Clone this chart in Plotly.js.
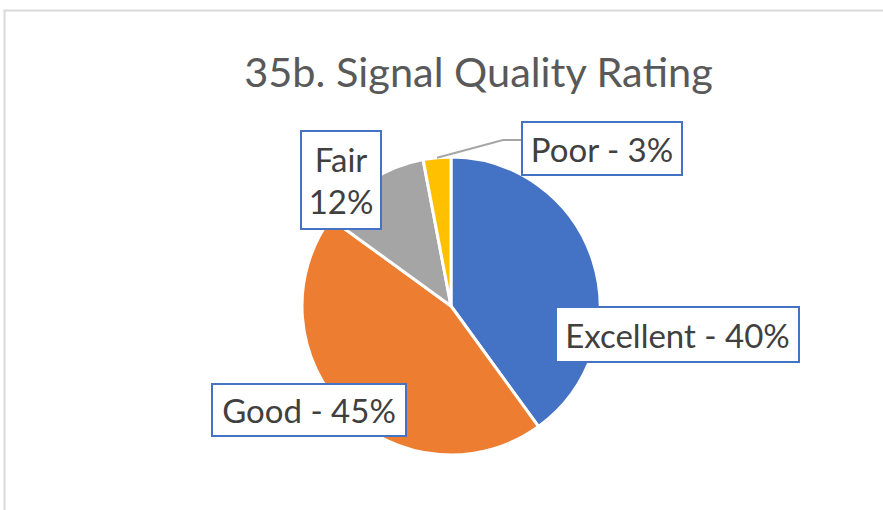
<!DOCTYPE html>
<html>
<head>
<meta charset="utf-8">
<script src="https://cdn.plot.ly/plotly-3.0.1.min.js"></script>
<style>html,body{margin:0;padding:0;background:#fff;}#chart{width:883px;height:510px;}</style>
</head>
<body>
<div id="chart"></div>
<script>
const categories = ["Excellent", "Good", "Fair", "Poor"];
const percents = [40, 45, 12, 3];
const colors = ["#4472C4", "#ED7D31", "#A5A5A5", "#FFC000"];
const chartTitle = "35b. Signal Quality Rating";

const W = 883, H = 510;
const FONT = "Lato, 'Open Sans', sans-serif";
// pie geometry (pixels)
const cx = 451, cy = 306, R = 149;
const px = x => x / W, py = y => 1 - y / H;

// label boxes: center and size (pixels)
const boxes = [
  {cx: 677, cy: 334, w: 245, h: 57, sep: " - "},
  {cx: 309, cy: 410, w: 196, h: 54, sep: " - "},
  {cx: 341, cy: 180, w: 82, h: 100, sep: "<br>"},
  {cx: 602, cy: 148, w: 162, h: 55, sep: " - "}
];
const pad = 2, bw = 2;
const annotations = categories.map((c, i) => {
  const b = boxes[i];
  return {
    text: c + b.sep + percents[i] + "%",
    x: px(b.cx), y: py(b.cy), xref: "paper", yref: "paper",
    xanchor: "center", yanchor: "middle", showarrow: false,
    width: b.w - 2 * pad - 2 * bw, height: b.h - 2 * pad - 2 * bw,
    align: "center", valign: "middle",
    bgcolor: "#FFFFFF", bordercolor: "#4472C4", borderwidth: bw, borderpad: pad,
    font: {family: FONT, size: 33, color: "#404040"}
  };
});

// leader line for the small "Poor" slice, from the slice mid-angle
const total = percents.reduce((a, b) => a + b, 0);
let cum = 0;
for (let i = 0; i < 3; i++) cum += percents[i];
const mid = (cum + percents[3] / 2) / total * 2 * Math.PI;
const sx = cx + R * Math.sin(mid), sy = cy - R * Math.cos(mid);
const shapes = [
  {type: "path", xref: "paper", yref: "paper",
   path: `M ${px(sx)},${py(sy)} L ${px(503)},${py(140)} L ${px(521)},${py(140)}`,
   line: {color: "#A6A6A6", width: 2}},
  {type: "rect", xref: "paper", yref: "paper", layer: "below",
   x0: px(4.5), x1: 1.2, y0: -0.2, y1: py(10.5),
   line: {color: "#D9D9D9", width: 2}, fillcolor: "rgba(0,0,0,0)"}
];

const trace = {
  type: "pie",
  labels: categories, values: percents,
  sort: false, direction: "clockwise", rotation: 0,
  marker: {colors: colors, line: {color: "#FFFFFF", width: 3}},
  textinfo: "none", hoverinfo: "label+percent",
  domain: {x: [px(cx - R), px(cx + R)], y: [py(cy + R), py(cy - R)]},
  showlegend: false
};

const layout = {
  width: W, height: H,
  margin: {l: 0, r: 0, t: 0, b: 0},
  paper_bgcolor: "#FFFFFF",
  title: {text: chartTitle, x: px(478.5), xanchor: "center", xref: "paper",
          y: py(72), yanchor: "middle", yref: "container",
          font: {family: FONT, size: 41.5, color: "#595959"}},
  annotations: annotations,
  shapes: shapes,
  showlegend: false
};

Plotly.newPlot("chart", [trace], layout, {staticPlot: true});
</script>
</body>
</html>
